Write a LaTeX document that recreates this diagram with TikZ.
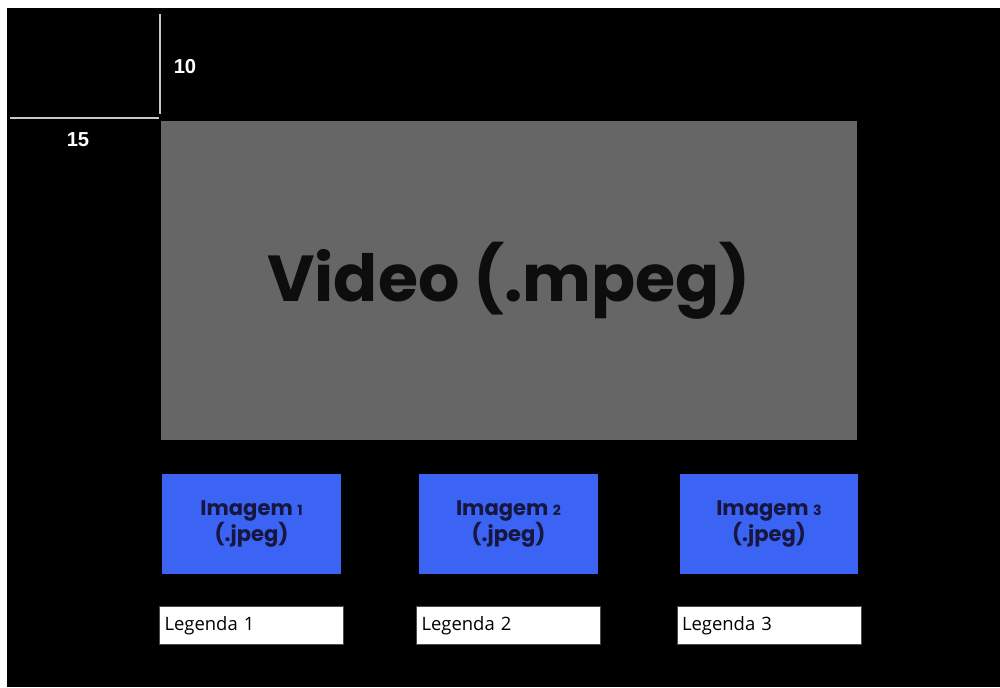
\documentclass[tikz,border=0pt]{standalone}
\usepackage{fontspec}
\usepackage{tikz}
\usetikzlibrary{positioning}
\setmainfont{Liberation Sans}
\newfontfamily\gothicfont{Poppins}
\newfontfamily\handfont{Open Sans}
\definecolor{fundo}{HTML}{000000}
\definecolor{cinza}{HTML}{666666}
\definecolor{azul}{HTML}{3B64F5}
\definecolor{marinho}{HTML}{16163E}
\definecolor{guia}{HTML}{C8C8C8}
\tikzset{
  videobox/.style={rectangle, fill=cinza, minimum width=13.92cm, minimum height=6.38cm,
                   inner sep=0pt, font=\gothicfont\bfseries\fontsize{37}{40}\selectfont, text=black!95},
  imgbox/.style={rectangle, fill=azul, minimum width=3.58cm, minimum height=2cm, inner sep=0pt,
                 align=center, font=\gothicfont\bfseries\fontsize{12}{14.5}\selectfont, text=marinho},
  legbox/.style={rectangle, fill=white, draw=black!70, line width=0.4pt, minimum width=3.68cm,
                 minimum height=0.76cm, inner sep=0pt, text width=3.48cm, align=left,
                 font=\handfont\fontsize{10.5}{12}\selectfont},
  medida/.style={text=white, font=\bfseries\fontsize{11.5}{13}\selectfont},
  guialinha/.style={draw=guia, line width=1.1pt},
}
\newcommand{\num}[1]{{\fontsize{8}{9}\selectfont #1}}
\begin{document}
\begin{tikzpicture}[x=0.02cm, y=-0.02cm, node distance=0.64cm]
  \useasboundingbox (0,0) rectangle (1000,687);
  \fill[white] (0,0) rectangle (1000,687);
  \fill[fundo] (7,8) rectangle (1000,687);
  % margens
  \coordinate (v0) at (160,14);
  \coordinate (v1) at (160,114);
  \coordinate (h0) at (10,118);
  \coordinate (h1) at (159,118);
  \draw[guialinha] (v0) -- (v1);
  \draw[guialinha] (h0) -- (h1);
  \node[medida] (m10) at (185,67) {10};
  \node[medida] (m15) at (78,140) {15};
  % video
  \node[videobox] (video) at (509,280.5) {Video (.mpeg)};
  % imagens e legendas
  \node[imgbox] (img1) at (251.5,524) {Imagem \num{1}\\(.jpeg)};
  \node[imgbox] (img2) at (508.5,524) {Imagem \num{2}\\(.jpeg)};
  \node[imgbox] (img3) at (769,524) {Imagem \num{3}\\(.jpeg)};
  \node[legbox, below=of img1] (leg1) {Legenda 1};
  \node[legbox, below=of img2] (leg2) {Legenda 2};
  \node[legbox, below=of img3] (leg3) {Legenda 3};
\end{tikzpicture}
\end{document}
